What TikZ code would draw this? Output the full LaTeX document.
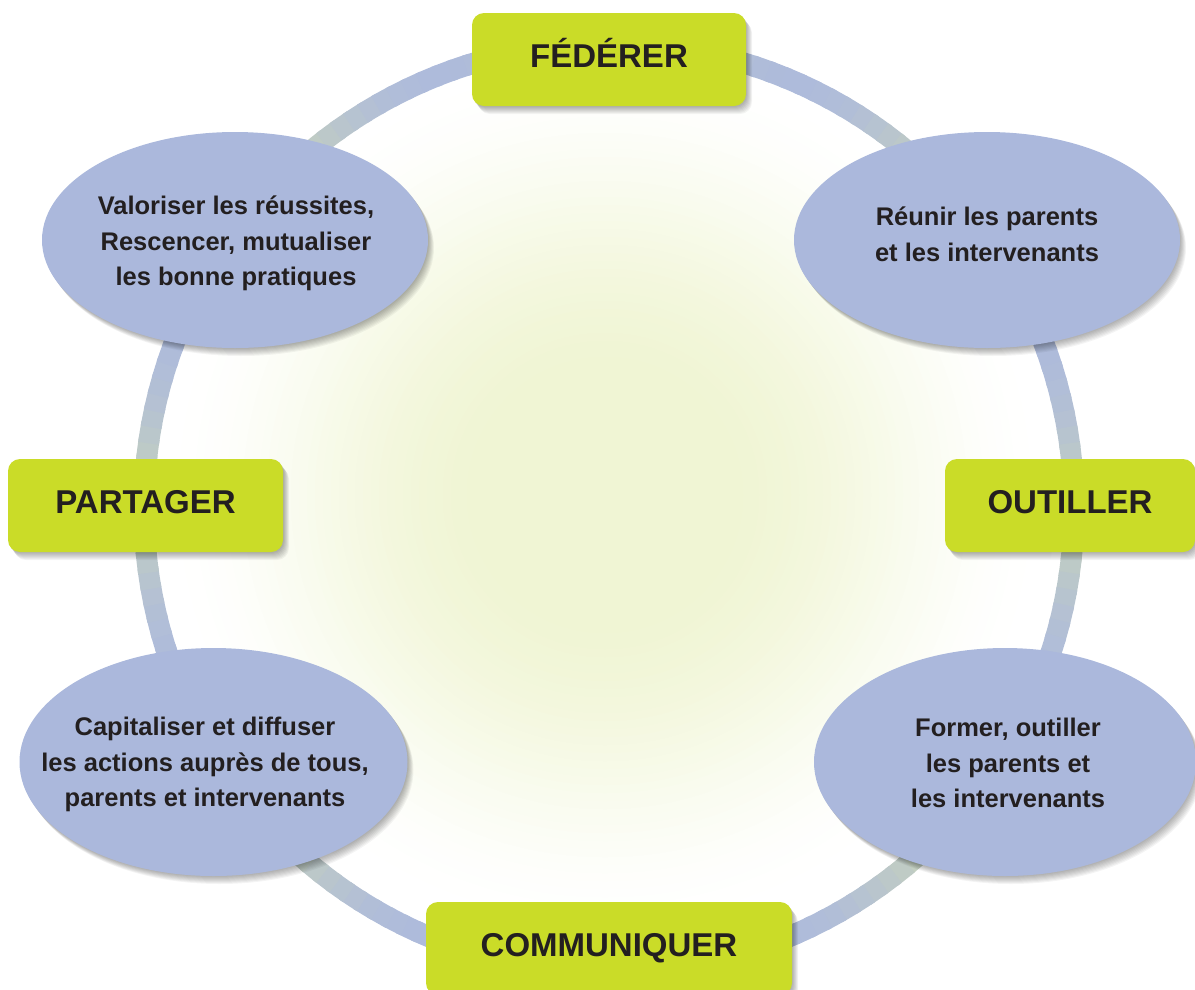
\documentclass[tikz,border=0pt]{standalone}
\usepackage{fontspec}
\setmainfont{Liberation Sans}
\usetikzlibrary{shapes.geometric,calc}
\definecolor{limebox}{RGB}{202,220,40}
\definecolor{ellfill}{RGB}{171,184,220}
\definecolor{ringblue}{RGB}{174,187,219}
\definecolor{ringgreen}{RGB}{200,212,186}
\definecolor{glowc}{RGB}{240,245,212}
\definecolor{inkc}{RGB}{35,31,32}
\tikzset{
  sh/.style={preaction={fill=black, fill opacity=0.045, transform canvas={xshift=#1*0.75pt, yshift=-#1*1pt}}},
  softshadow/.style={sh=1, sh=2, sh=3, sh=4, sh=5, sh=6, sh=7, sh=8},
  greenbox/.style={rectangle, rounded corners=12pt, fill=limebox, inner sep=0pt,
    text height=54pt, text depth=39pt, text=inkc,
    font=\fontsize{33}{33}\selectfont\bfseries, softshadow},
  bubble/.style={ellipse, fill=ellfill, inner sep=0pt, softshadow},
  bubbletext/.style={align=center, text=inkc, inner sep=0pt,
    font=\fontsize{25.5}{35.5}\selectfont\bfseries},
}
\begin{document}
\begin{tikzpicture}[x=1pt,y=-1pt]
\useasboundingbox (0,0) rectangle (1195,989);
% glow
\coordinate (g) at (605,495);
\foreach \r in {450,442,...,10}{
  \pgfmathsetmacro\t{min(1,max(0,(450-\r)/330))}
  \pgfmathsetmacro\p{100*(3*\t*\t-2*\t*\t*\t)}
  \fill[color=glowc!\p!white] (g) circle[radius=\r];
}
% ring
\coordinate (c) at (609,508);
\foreach \a in {0,2,...,358}{
  \pgfmathsetmacro\p{100*abs(sin(4*\a))}
  \draw[color=ringblue!\p!ringgreen, line width=21pt]
    ($(c)+(\a:465)$) arc[start angle=\a, end angle=\a+2.6, radius=465];
}
% boxes
\node[greenbox, minimum width=274pt] (fed) at (609,59.5) {FÉDÉRER};
\node[greenbox, minimum width=275pt] (par) at (145.5,505.5) {PARTAGER};
\node[greenbox, minimum width=250pt] (out) at (1070,505.5) {OUTILLER};
\node[greenbox, minimum width=366pt] (com) at (609,948.5) {COMMUNIQUER};
% ellipses
\node[bubble, minimum width=386pt, minimum height=216pt] (val) at (235,240) {};
\node[bubble, minimum width=386pt, minimum height=216pt] (reu) at (987,240) {};
\node[bubble, minimum width=388pt, minimum height=228pt] (cap) at (213.5,762) {};
\node[bubble, minimum width=382pt, minimum height=228pt] (for) at (1005,762) {};
\node[bubbletext] (valt) at (236,243.5)
  {Valoriser les réussites,\\Rescencer, mutualiser\\les bonne pratiques};
\node[bubbletext] (reut) at (987,234.5)
  {Réunir les parents\\et les intervenants};
\node[bubbletext] (capt) at (205,764.5)
  {Capitaliser et diffuser\\les actions auprès de tous,\\parents et intervenants};
\node[bubbletext] (fort) at (1008,763)
  {Former, outiller\\les parents et\\les intervenants};
\end{tikzpicture}
\end{document}
